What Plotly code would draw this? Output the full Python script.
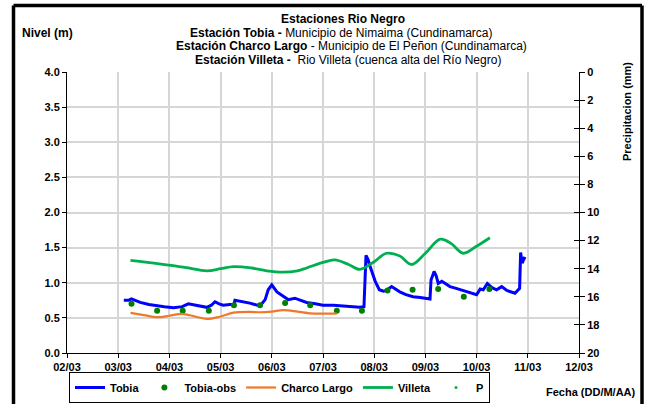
import plotly.graph_objects as go

# ---------------- data (x = days after 02/03) ----------------
tick_vals = [0, 1, 2, 3, 4, 5, 6, 7, 8, 9, 10]
tick_text = ["02/03", "03/03", "04/03", "05/03", "06/03", "07/03", "08/03", "09/03", "10/03", "11/03", "12/03"]
precip_ticks = [0, 2, 4, 6, 8, 10, 12, 14, 16, 18, 20]

tobia_x = [1.11, 1.20, 1.26, 1.43, 1.60, 1.75, 1.90, 2.08, 2.25, 2.37, 2.50, 2.73, 2.82, 2.89, 2.97, 3.05, 3.18, 3.26, 3.28,
           3.38, 3.57, 3.77, 3.87, 3.93, 4.00, 4.10, 4.19, 4.32, 4.45, 4.68, 4.85, 5.00, 5.20, 5.40, 5.60, 5.72, 5.80,
           5.84, 5.88, 5.92, 6.02, 6.10, 6.18, 6.24, 6.34, 6.50, 6.62, 6.76, 6.90, 7.09, 7.11, 7.17, 7.21, 7.25, 7.32,
           7.48, 7.60, 7.74, 7.87, 8.00, 8.07, 8.13, 8.21, 8.30, 8.39, 8.49, 8.59, 8.75, 8.84, 8.86, 8.89, 8.93, 8.96]
tobia_y = [0.75, 0.75, 0.77, 0.72, 0.69, 0.67, 0.66, 0.645, 0.66, 0.70, 0.68, 0.65, 0.68, 0.73, 0.70, 0.68, 0.69, 0.69, 0.75,
           0.74, 0.71, 0.67, 0.76, 0.90, 0.97, 0.87, 0.83, 0.76, 0.78, 0.72, 0.70, 0.68, 0.68, 0.67, 0.66, 0.65, 0.66,
           1.39, 1.33, 1.23, 1.02, 0.90, 0.88, 0.89, 0.945, 0.87, 0.83, 0.80, 0.79, 0.77, 1.04, 1.16, 1.10, 0.99, 1.02,
           0.945, 0.92, 0.89, 0.86, 0.83, 0.91, 0.90, 0.99, 0.93, 0.90, 0.945, 0.89, 0.85, 0.92, 1.43, 1.28, 1.35, 1.34]

obs_x = [1.26, 1.76, 2.26, 2.77, 3.26, 3.77, 4.26, 4.75, 5.27, 5.76, 6.26, 6.75, 7.25, 7.75, 8.25]
obs_y = [0.70, 0.60, 0.60, 0.60, 0.68, 0.68, 0.71, 0.68, 0.60, 0.60, 0.89, 0.90, 0.91, 0.80, 0.91]

charco_x = [1.24, 1.50, 1.75, 2.00, 2.24, 2.50, 2.73, 3.00, 3.25, 3.57, 3.77, 4.00, 4.22, 4.50, 4.75, 5.00, 5.27]
charco_y = [0.57, 0.54, 0.51, 0.53, 0.556, 0.52, 0.485, 0.52, 0.574, 0.585, 0.58, 0.59, 0.61, 0.59, 0.565, 0.56, 0.56]

villeta_x = [1.24, 1.80, 2.30, 2.73, 3.00, 3.25, 3.60, 3.90, 4.22, 4.50, 4.68, 5.00, 5.23, 5.50, 5.72, 6.00, 6.24, 6.50,
             6.73, 7.00, 7.29, 7.50, 7.74, 8.00, 8.26]
villeta_y = [1.32, 1.27, 1.22, 1.17, 1.20, 1.23, 1.21, 1.17, 1.15, 1.17, 1.21, 1.29, 1.325, 1.26, 1.19, 1.30, 1.42, 1.38,
             1.26, 1.42, 1.62, 1.56, 1.42, 1.52, 1.64]

# P (precipitation) has no visible values in the chart
p_x = [None]
p_y = [None]

# ---------------- layout helpers ----------------
W, H = 645, 404
L, R, T, B = 67, 579, 72, 353


def px(x):
    return (x - L) / (R - L)


def py(y):
    return (B - y) / (B - T)


FONT = "Liberation Sans, Arial, sans-serif"

fig = go.Figure()
fig.add_trace(go.Scatter(x=tobia_x, y=tobia_y, mode="lines", name="Tobia",
                         line=dict(color="#0000FF", width=3)))
fig.add_trace(go.Scatter(x=obs_x, y=obs_y, mode="markers", name="Tobia-obs",
                         marker=dict(color="#008000", size=6)))
fig.add_trace(go.Scatter(x=charco_x, y=charco_y, mode="lines", name="Charco Largo",
                         line=dict(color="#F07828", width=2.2, shape="spline")))
fig.add_trace(go.Scatter(x=villeta_x, y=villeta_y, mode="lines", name="Villeta",
                         line=dict(color="#00B050", width=2.8, shape="spline")))
fig.add_trace(go.Scatter(x=p_x, y=p_y, mode="markers", name="P", yaxis="y2",
                         marker=dict(color="#00B050", size=3)))
# dummy trace to activate yaxis3 (inner half of the crossing ticks on the right axis)
fig.add_trace(go.Scatter(x=[None], y=[None], yaxis="y3", showlegend=False, hoverinfo="skip"))

bold11 = dict(family=FONT, size=11, color="black", weight="bold")

fig.update_layout(
    width=W, height=H,
    margin=dict(l=L, r=W - R, t=T, b=H - B, autoexpand=False),
    paper_bgcolor="white", plot_bgcolor="white",
    font=dict(family=FONT, size=11, color="black"),
    xaxis=dict(range=[0, 10], tickvals=tick_vals, ticktext=tick_text,
               showgrid=True, gridcolor="#d6d6d6", gridwidth=1.5,
               showline=True, linecolor="black", linewidth=1,
               ticks="outside", ticklen=4, tickcolor="black", tickfont=bold11,
               zeroline=False),
    yaxis=dict(range=[0, 4], dtick=0.5, tickformat=".1f",
               showgrid=True, gridcolor="#d6d6d6", gridwidth=1.5,
               showline=True, linecolor="black", linewidth=1,
               ticks="outside", ticklen=4, tickcolor="black", tickfont=bold11,
               zeroline=False),
    yaxis2=dict(range=[20, 0], tickvals=precip_ticks, overlaying="y", side="right",
                showgrid=False, showline=True, linecolor="black", linewidth=1,
                ticks="outside", ticklen=5, tickcolor="black", tickfont=bold11,
                zeroline=False),
    yaxis3=dict(range=[20, 0], tickvals=precip_ticks, overlaying="y", side="right",
                showgrid=False, showline=False, showticklabels=False,
                ticks="inside", ticklen=5, tickcolor="black", zeroline=False),
    showlegend=True,
    legend=dict(orientation="h", x=px(69), y=py(372), xanchor="left", yanchor="top",
                bordercolor="black", borderwidth=1, bgcolor="rgba(0,0,0,0)",
                font=bold11, itemwidth=30, tracegroupgap=0),
)

ann = []


def text(x, y, s, size=12, xanchor="center", angle=0):
    ann.append(dict(x=px(x), y=py(y), xref="paper", yref="paper", text=s, showarrow=False,
                    xanchor=xanchor, yanchor="middle", textangle=angle,
                    font=dict(family=FONT, size=size, color="black")))


text(343, 19, "<b>Estaciones Rio Negro</b>")
text(341, 33, "<b>Estación Tobia - </b>Municipio de Nimaima (Cundinamarca)")
text(351, 46, "<b>Estación Charco Largo</b> - Municipio de El Peñon (Cundinamarca)")
text(348, 60, "<b>Estación Villeta - </b> Rio Villeta (cuenca alta del Río Negro)")
text(20, 33, "<b>Nivel (m)</b>", xanchor="left")
text(627, 112, "<b>Precipitacion (mm)</b>", size=11, angle=-90)
text(638, 392, "<b>Fecha (DD/M/AA)</b>", size=11, xanchor="right")
fig.update_layout(annotations=ann)

# outer frame (left, top, right thick black lines)
shp = []
for (x0, y0, x1, y1) in [(13.5, 5.5, 13.5, 404), (13.5, 5.5, 642, 5.5), (642, 5.5, 642, 404)]:
    shp.append(dict(type="line", xref="paper", yref="paper", x0=px(x0), y0=py(y0), x1=px(x1), y1=py(y1),
                    line=dict(color="black", width=3.5)))
fig.update_layout(shapes=shp)

fig.write_html("out.html", config={"displayModeBar": False},
               post_script="document.body.style.margin='0';")
